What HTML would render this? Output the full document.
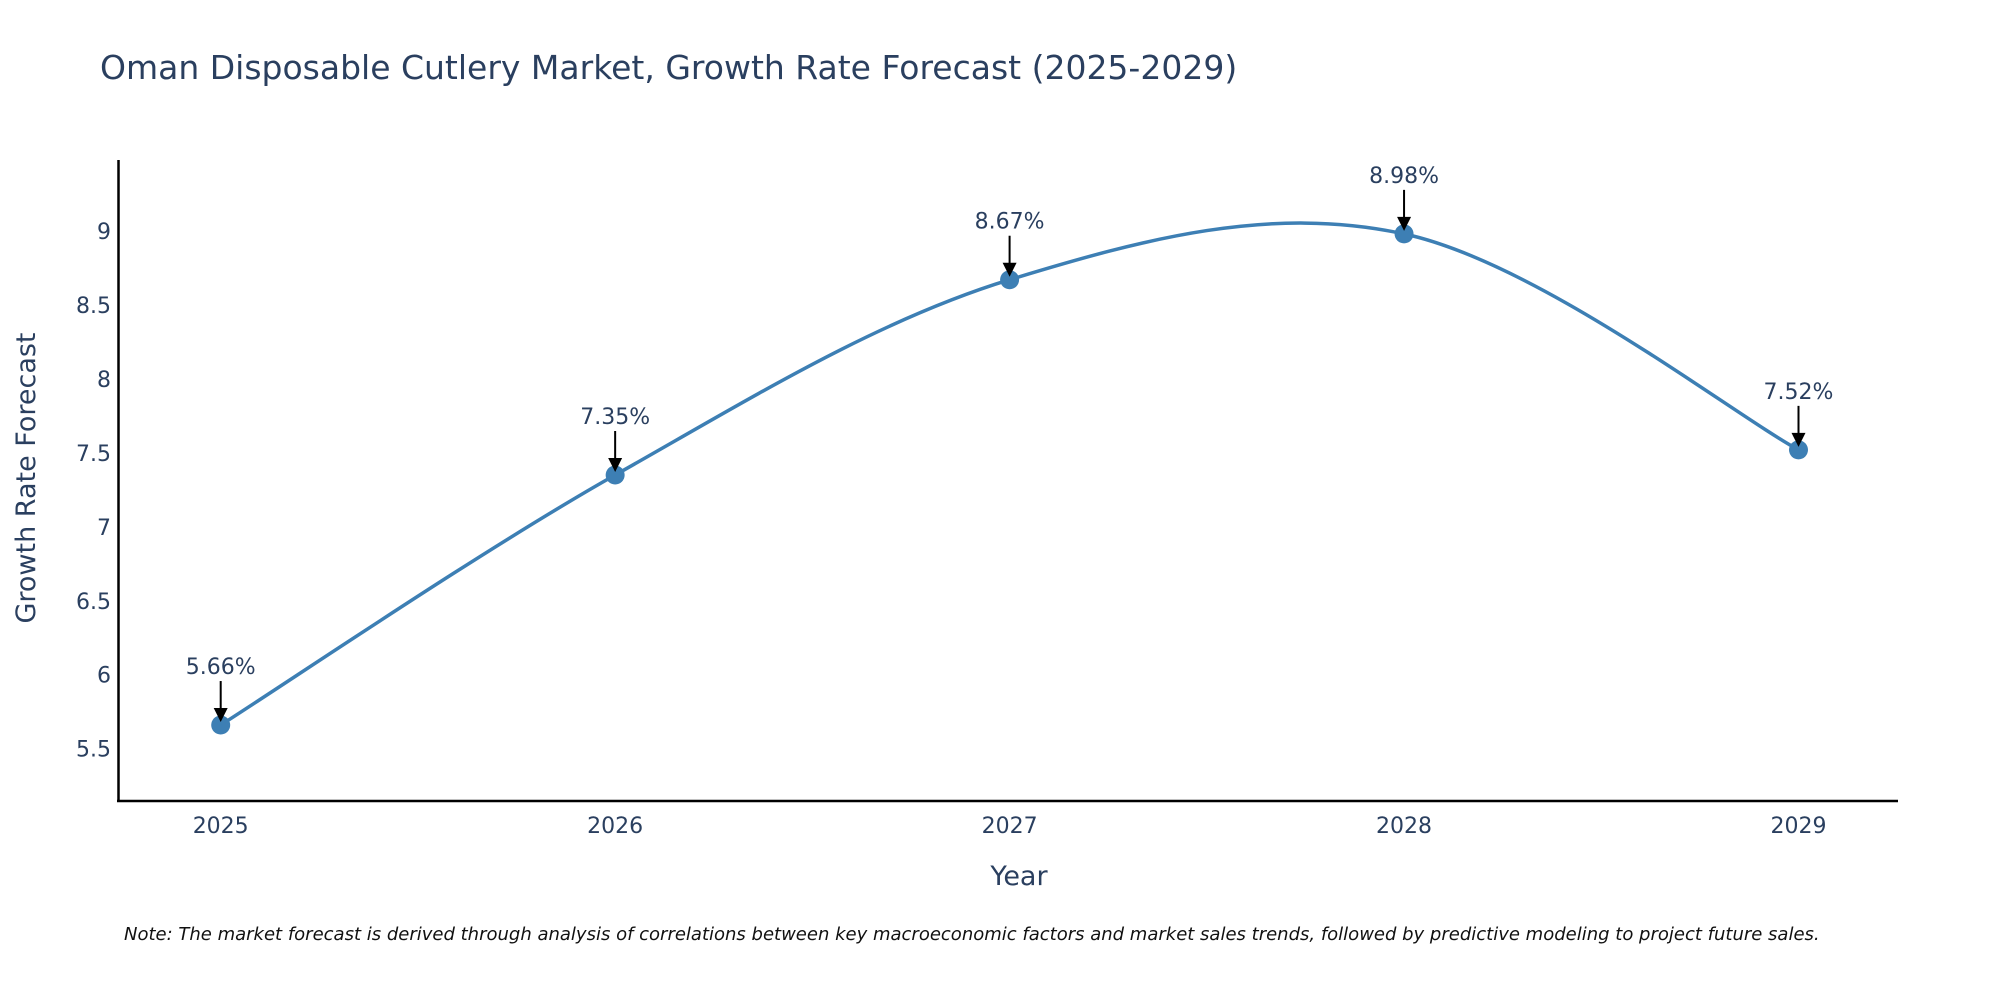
<!DOCTYPE html>
<html><head><meta charset="utf-8"><style>
body{margin:0;background:#fff;}
svg{display:block;font-family:"DejaVu Sans","Liberation Sans",sans-serif;}
</style></head><body>
<svg id="chart" width="2000" height="1000" viewBox="0 0 2000 1000">
<text x="100" y="79" font-size="33" fill="#2a3f5f">Oman Disposable Cutlery Market, Growth Rate Forecast (2025-2029)</text>
<g id="yticks"></g>
<g id="xticks"></g>
<line x1="118.5" y1="160" x2="118.5" y2="802" stroke="#000" stroke-width="2.5"/>
<line x1="117" y1="801" x2="1898" y2="801" stroke="#000" stroke-width="2.5"/>
<path id="line" fill="none" stroke="#3d7fb4" stroke-width="3.5"/>
<g id="points"></g>
<g id="annos"></g>
<text x="1019" y="885" font-size="27" fill="#2a3f5f" text-anchor="middle">Year</text>
<text transform="translate(35,478) rotate(-90)" font-size="27" fill="#2a3f5f" text-anchor="middle">Growth Rate Forecast</text>
<text x="124" y="940" font-size="18" font-style="italic" fill="#111">Note: The market forecast is derived through analysis of correlations between key macroeconomic factors and market sales trends, followed by predictive modeling to project future sales.</text>
</svg>
<script>
const years = [2025, 2026, 2027, 2028, 2029];
const values = [5.66, 7.35, 8.67, 8.98, 7.52];
const labels = ["5.66%", "7.35%", "8.67%", "8.98%", "7.52%"];
const yTicks = [5.5, 6, 6.5, 7, 7.5, 8, 8.5, 9];
const NS = "http://www.w3.org/2000/svg";
function xs(y){ return 220.7 + (y - 2025) * 394.45; }
function ys(v){ return 748.7 - (v - 5.5) * 147.94; }
function mk(tag, attrs, parent){ const e = document.createElementNS(NS, tag); for (const k in attrs) e.setAttribute(k, attrs[k]); parent.appendChild(e); return e; }
const yg = document.getElementById('yticks');
yTicks.forEach(t => {
  const e = mk('text', {x: 111, y: ys(t) + 8, 'font-size': 22, fill: '#2a3f5f', 'text-anchor': 'end'}, yg);
  
  
  e.textContent = String(t);
});
const xg = document.getElementById('xticks');
years.forEach(y => {
  const e = mk('text', {x: xs(y), y: 833, 'font-size': 22, fill: '#2a3f5f', 'text-anchor': 'middle'}, xg);
  
  
  e.textContent = String(y);
});
const P = years.map((y, i) => [xs(y), ys(values[i])]);
let d = 'M' + P[0][0] + ',' + P[0][1];
const k = 0.17;
for (let i = 0; i < P.length - 1; i++) {
  const p0 = P[Math.max(0, i - 1)], p1 = P[i], p2 = P[i + 1], p3 = P[Math.min(P.length - 1, i + 2)];
  const c1 = [p1[0] + (p2[0] - p0[0]) * k, p1[1] + (p2[1] - p0[1]) * k];
  const c2 = [p2[0] - (p3[0] - p1[0]) * k, p2[1] - (p3[1] - p1[1]) * k];
  d += ' C' + c1 + ' ' + c2 + ' ' + p2;
}
document.getElementById('line').setAttribute('d', d);
const pg = document.getElementById('points'), ag = document.getElementById('annos');
P.forEach((p, i) => {
  const c = mk('circle', {cx: p[0], cy: p[1], r: 9.5, fill: '#3d7fb4'}, pg);
  
  
  const l = mk('line', {x1: p[0], y1: p[1] - 44, x2: p[0], y2: p[1] - 14, stroke: '#000', 'stroke-width': 2}, ag);
  
  
  const h = mk('polygon', {points: (p[0]-7)+','+(p[1]-17)+' '+(p[0]+7)+','+(p[1]-17)+' '+p[0]+','+(p[1]-3), fill: '#000'}, ag);
  
  
  const t = mk('text', {x: p[0], y: p[1] - 51, 'font-size': 22, fill: '#2a3f5f', 'text-anchor': 'middle'}, ag);
  
  
  t.textContent = labels[i];
});
</script>
</body></html>
